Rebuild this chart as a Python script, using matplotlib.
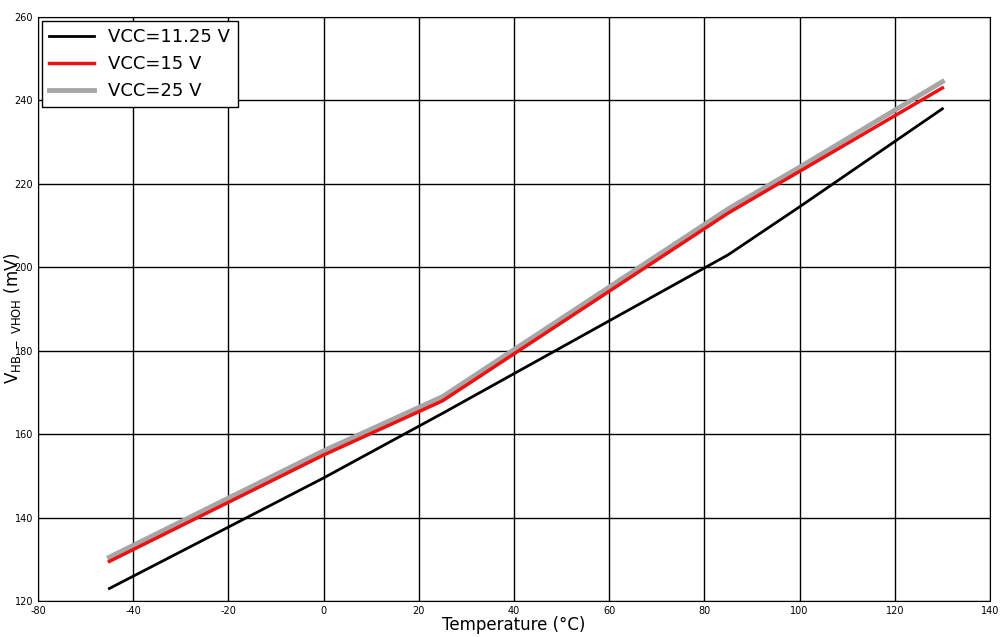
import matplotlib
matplotlib.use("Agg")
import matplotlib.pyplot as plt

temps = [-45, 0, 25, 85, 100, 130]
vcc1125 = [123, 149.5, 165, 203, 214.5, 238]
vcc15 = [129.5, 155, 168, 213, 223, 243]
vcc25 = [130.5, 156, 169, 214, 224, 244.5]

fig = plt.figure(figsize=(10.07, 6.37), dpi=100)
ax = fig.add_axes([38/1007, 36/637, 952/1007, 584/637])
ax.plot(temps, vcc25, color="#a6a6a6", lw=3.5, label="VCC=25 V", zorder=3)
ax.plot(temps, vcc15, color="#ee1111", lw=2.5, label="VCC=15 V", zorder=4)
ax.plot(temps, vcc1125, color="black", lw=2, label="VCC=11.25 V", zorder=5)
ax.set_xlim(-60, 140)
ax.set_ylim(120, 260)
xt = [-60, -40, -20, 0, 20, 40, 60, 80, 100, 120, 140]
ax.set_xticks(xt)
ax.set_xticklabels(["-80"] + [str(v) for v in xt[1:]], fontsize=7)
ax.set_yticks(range(120, 261, 20))
ax.tick_params(labelsize=7, length=0)
ax.grid(True, color="black", lw=1)
for s in ax.spines.values():
    s.set_color("black")
ax.set_xlabel("Temperature (°C)", fontsize=12, labelpad=0)
fig.text(2/1007, 0.5, "V$_{\\mathregular{HB\\ -\\ VHOH}}$ (mV)", fontsize=12,
         rotation=90, ha="left", va="center")
h, l = ax.get_legend_handles_labels()
leg = ax.legend(h[::-1], l[::-1], loc="upper left", fontsize=13, fancybox=False,
                edgecolor="black", framealpha=1, borderaxespad=0.2, handlelength=2.5)
leg.get_frame().set_linewidth(1)
fig.savefig("out.png", dpi=100)
